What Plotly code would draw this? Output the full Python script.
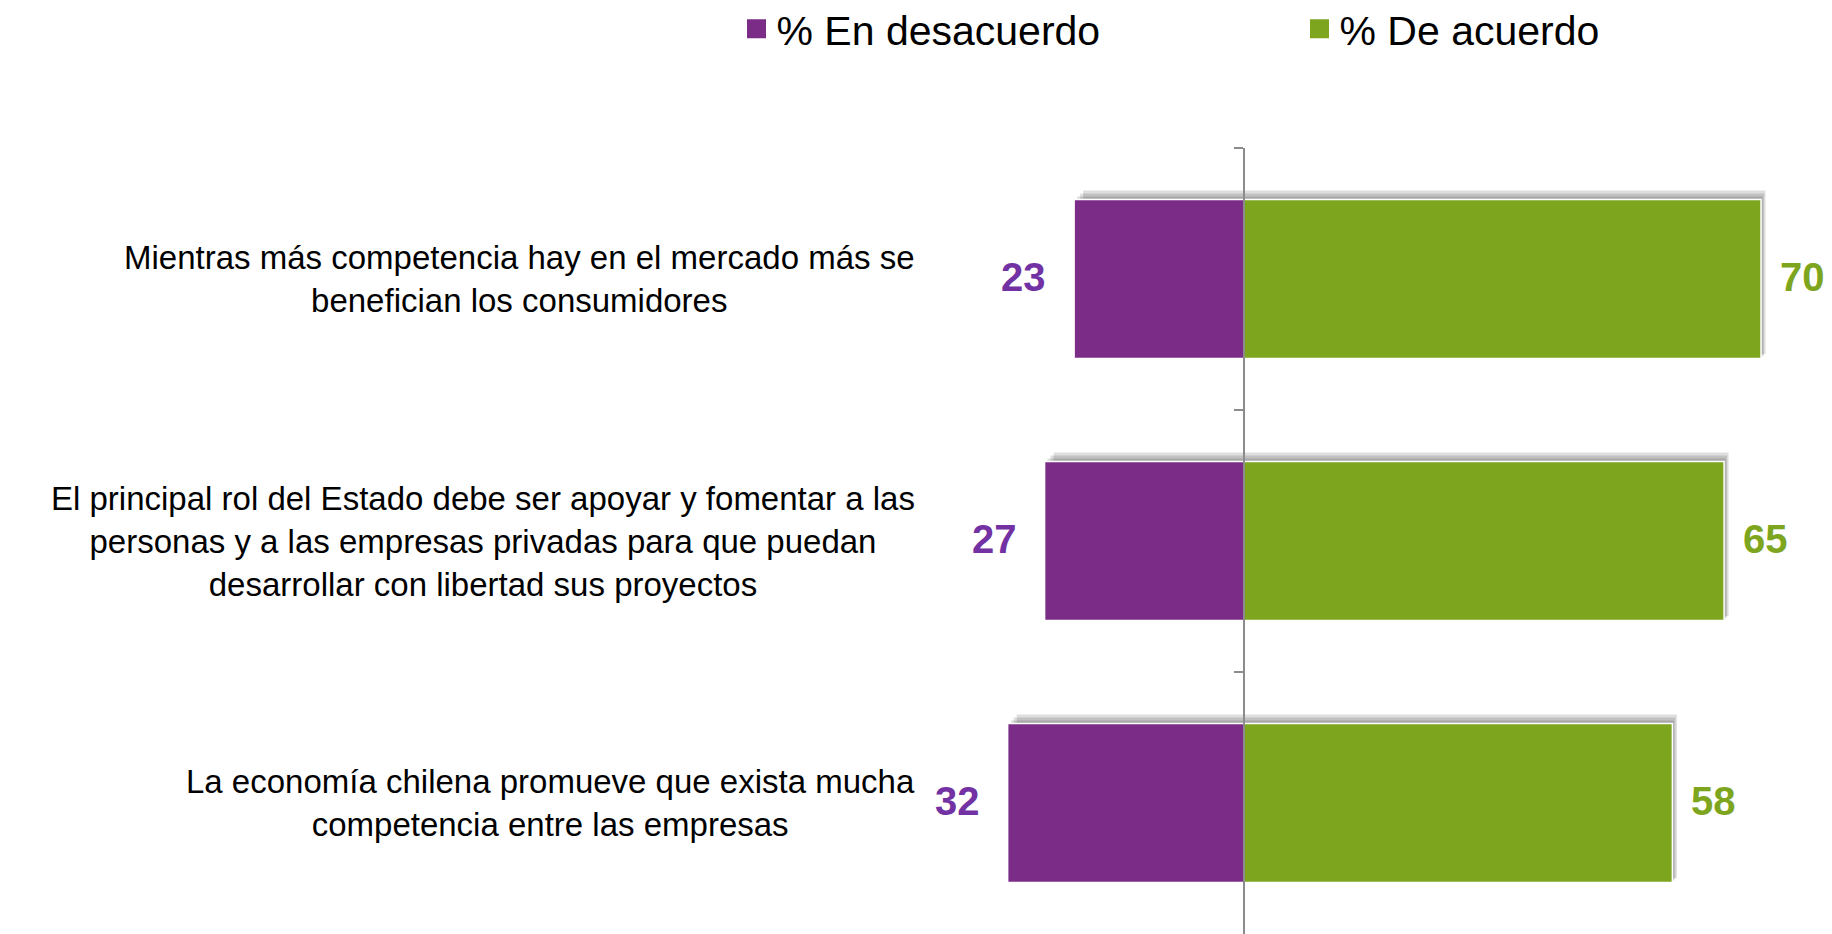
import plotly.graph_objects as go

categories = [
    "Mientras más competencia hay en el mercado más se<br>benefician los consumidores",
    "El principal rol del Estado debe ser apoyar y fomentar a las<br>personas y a las empresas privadas para que puedan<br>desarrollar con libertad sus proyectos",
    "La economía chilena promueve que exista mucha<br>competencia entre las empresas",
]
desacuerdo = [23, 27, 32]
de_acuerdo = [70, 65, 58]
series_names = ["% En desacuerdo", "% De acuerdo"]

PURPLE = "#7B2C87"
GREEN = "#7DA51E"
PURPLE_TXT = "#7232A3"
GREEN_TXT = "#7DA51E"
FONT = "Arial, Liberation Sans, sans-serif"

W, H = 1832, 934
MT, MB = 140, 8
PX_PER_UNIT = 7.386
ZERO_PX = 1236
xmin = -ZERO_PX / PX_PER_UNIT
xmax = (W - ZERO_PX) / PX_PER_UNIT
zero_pos = (0 - xmin) / (xmax - xmin)
BARW = 0.607
PLOT_H = H - MT - MB
CAT_PX = PLOT_H / len(categories)

fig = go.Figure()

# soft drop shadow (layers), derived from the data values
for eps in [9, 6, 3]:
    dy = eps / CAT_PX
    dx = eps / PX_PER_UNIT
    common = dict(
        y=categories, orientation="h", offset=-BARW / 2 - dy, width=BARW + dy / 2,
        marker=dict(color="rgba(0,0,0,0.13)", line=dict(width=0)),
        showlegend=False, hoverinfo="skip",
    )
    fig.add_trace(go.Bar(x=[-v + dx for v in desacuerdo], **common))
    fig.add_trace(go.Bar(x=[v + dx / 2 for v in de_acuerdo], **common))

fig.add_trace(go.Bar(
    y=categories, x=[-v for v in desacuerdo], orientation="h", width=BARW,
    marker=dict(color=PURPLE, line=dict(color="white", width=1.5)),
    showlegend=False, hoverinfo="skip",
))
fig.add_trace(go.Bar(
    y=categories, x=de_acuerdo, orientation="h", width=BARW,
    marker=dict(color=GREEN, line=dict(color="white", width=1.5)),
    showlegend=False, hoverinfo="skip",
))
# legend entries
for name, col in zip(series_names, [PURPLE, GREEN]):
    fig.add_trace(go.Scatter(
        x=[None], y=[None], mode="markers", name=name,
        marker=dict(symbol="square", size=16, color=col, line=dict(color=col, width=3)),
    ))

annotations = []
for cat, v in zip(categories, desacuerdo):
    annotations.append(dict(
        x=-v, y=cat, xref="x", yref="y", text=str(v), showarrow=False,
        xanchor="right", yanchor="middle", xshift=-26, yshift=2,
        font=dict(family=FONT, size=40, color=PURPLE_TXT, weight="bold"),
    ))
for cat, v in zip(categories, de_acuerdo):
    annotations.append(dict(
        x=v, y=cat, xref="x", yref="y", text=str(v), showarrow=False,
        xanchor="left", yanchor="middle", xshift=17, yshift=2,
        font=dict(family=FONT, size=40, color=GREEN_TXT, weight="bold"),
    ))
for cat in categories:
    annotations.append(dict(
        x=909 / W, y=cat, xref="paper", yref="y", text=cat, showarrow=False,
        xanchor="right", yanchor="middle", align="center",
        font=dict(family=FONT, size=33, color="black"),
    ))

fig.update_layout(
    width=W, height=H,
    margin=dict(l=0, r=0, t=MT, b=MB, autoexpand=False),
    paper_bgcolor="white", plot_bgcolor="white",
    barmode="overlay",
    xaxis=dict(range=[xmin, xmax], visible=False, showgrid=False, zeroline=False, fixedrange=True),
    yaxis=dict(
        categoryorder="array", categoryarray=categories, autorange="reversed",
        anchor="free", position=zero_pos,
        showline=True, linecolor="#8C8C8C", linewidth=1.5,
        ticks="outside", ticklen=9, tickwidth=1.5, tickcolor="#8C8C8C",
        tickson="boundaries", showticklabels=False, showgrid=False, zeroline=False,
    ),
    legend=dict(
        orientation="h", x=728.5 / W, xanchor="left",
        y=1 - 21 / H, yref="container", yanchor="middle",
        font=dict(family=FONT, size=41, color="black"),
        entrywidth=518, entrywidthmode="pixels", itemsizing="trace",
        bgcolor="rgba(0,0,0,0)",
    ),
    annotations=annotations,
    showlegend=True,
)

fig.write_html("out.html")
